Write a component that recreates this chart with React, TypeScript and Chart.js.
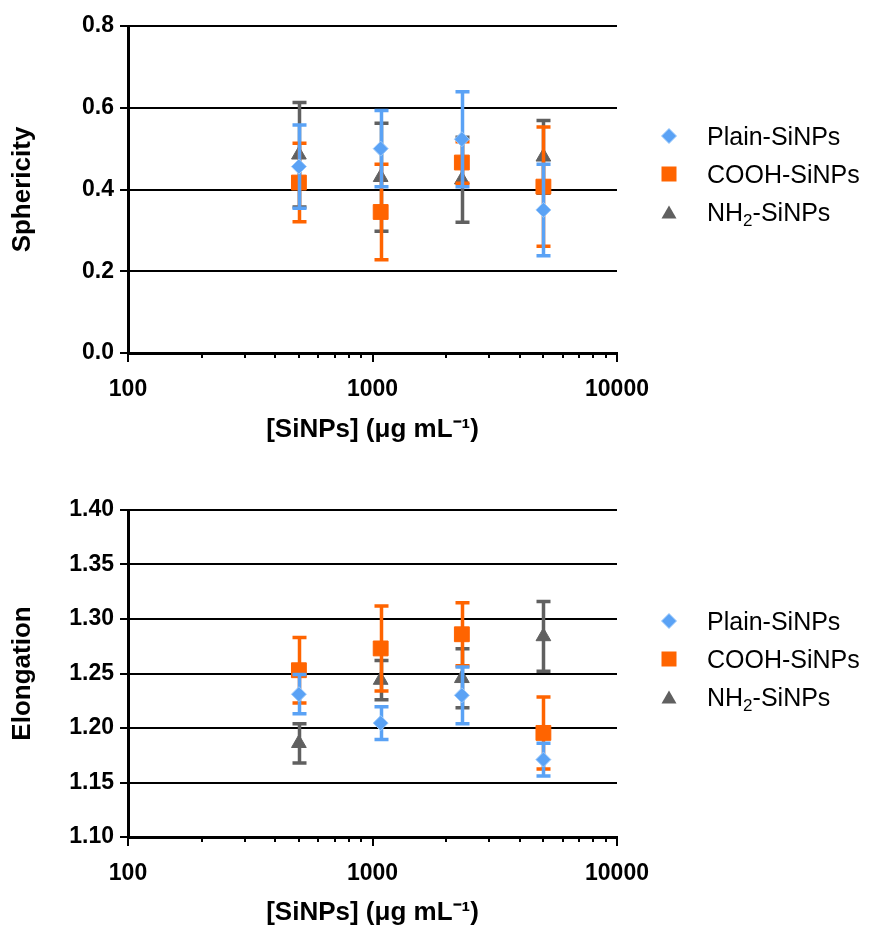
import React, { useEffect, useRef } from "react";
import { Chart, registerables } from "chart.js";

Chart.register(...registerables);

// ---------- data ----------
const DOSES = [500, 1080, 2320, 5000];
const X_TICKS = [100, 200, 300, 400, 500, 600, 700, 800, 900, 1000, 2000, 3000, 4000, 5000, 6000, 7000, 8000, 9000, 10000];
const X_TITLE = "[SiNPs] (\u03bcg mL\u207b\u00b9)";

const SERIES_NAMES = ["Plain-SiNPs", "COOH-SiNPs", "NH2-SiNPs"];

const SPH_TICKS = [0, 0.2, 0.4, 0.6, 0.8];
const SPH_PLAIN = [0.456, 0.5, 0.523, 0.35];
const SPH_PLAIN_ERR = [0.102, 0.093, 0.116, 0.112];
const SPH_COOH = [0.417, 0.345, 0.466, 0.407];
const SPH_COOH_ERR = [0.096, 0.117, 0.051, 0.146];
const SPH_NH2 = [0.485, 0.43, 0.424, 0.48];
const SPH_NH2_ERR = [0.128, 0.132, 0.104, 0.089];

const ELO_TICKS = [1.1, 1.15, 1.2, 1.25, 1.3, 1.35, 1.4];
const ELO_PLAIN = [1.231, 1.2045, 1.23, 1.171];
const ELO_PLAIN_ERR = [0.018, 0.015, 0.026, 0.015];
const ELO_COOH = [1.253, 1.273, 1.286, 1.1955];
const ELO_COOH_ERR = [0.03, 0.039, 0.029, 0.033];
const ELO_NH2 = [1.186, 1.244, 1.2456, 1.284];
const ELO_NH2_ERR = [0.018, 0.018, 0.027, 0.032];

// ---------- styles ----------
const BLUE = "#5aa2f5";
const ORANGE = "#ff6400";
const GRAY = "#606060";
const FONT = "'Liberation Sans', Arial, Helvetica, sans-serif";

const isPow10 = (v: number) => Math.abs(Math.log10(v) - Math.round(Math.log10(v))) < 1e-9;

const errorBarPlugin = {
  id: "errorBars",
  beforeDatasetDraw(chart: any, args: any) {
    const ds: any = chart.data.datasets[args.index];
    const errs: number[] | undefined = ds.errors;
    if (!errs) return;
    const yScale = chart.scales.y;
    const ctx = chart.ctx;
    ctx.save();
    ctx.strokeStyle = ds.barColor;
    ctx.lineWidth = 3.5;
    ctx.lineCap = "butt";
    args.meta.data.forEach((pt: any, i: number) => {
      const raw = ds.data[i];
      const yt = yScale.getPixelForValue(raw.y + errs[i]);
      const yb = yScale.getPixelForValue(raw.y - errs[i]);
      const x = Math.round(pt.x) + 0.5;
      ctx.beginPath();
      ctx.moveTo(x, yt);
      ctx.lineTo(x, yb);
      ctx.moveTo(x - 7, yt);
      ctx.lineTo(x + 7, yt);
      ctx.moveTo(x - 7, yb);
      ctx.lineTo(x + 7, yb);
      ctx.stroke();
    });
    ctx.restore();
  },
};

const xTickPlugin = {
  id: "xTickMarks",
  afterDraw(chart: any) {
    const xs = chart.scales.x;
    const ctx = chart.ctx;
    const y0 = chart.chartArea.bottom;
    ctx.save();
    ctx.strokeStyle = "#000";
    ctx.lineWidth = 2;
    xs.ticks.forEach((t: any) => {
      const x = Math.round(xs.getPixelForValue(t.value));
      ctx.beginPath();
      ctx.moveTo(x, y0);
      ctx.lineTo(x, y0 + (isPow10(t.value) ? 9 : 5));
      ctx.stroke();
    });
    ctx.restore();
  },
};

type PanelCfg = {
  top: number;
  padTop: number;
  xAxisHeight: number;
  xTitlePad: number;
  yTitle: string;
  yTicks: number[];
  yMin: number;
  yMax: number;
  decimals: number;
  plain: number[];
  plainErr: number[];
  cooh: number[];
  coohErr: number[];
  nh2: number[];
  nh2Err: number[];
  legendY: number[];
};

const toPoints = (vals: number[]) => DOSES.map((x, i) => ({ x, y: vals[i] }));

function Panel({ cfg }: { cfg: PanelCfg }) {
  const ref = useRef<HTMLCanvasElement | null>(null);
  useEffect(() => {
    if (!ref.current) return;
    const tickFont = { family: FONT, size: 23, weight: "bold" as const };
    const titleFont = { family: FONT, size: 26, weight: "bold" as const, lineHeight: 1 };
    const chart = new Chart(ref.current, {
      type: "scatter",
      data: {
        datasets: [
          {
            label: SERIES_NAMES[0],
            data: toPoints(cfg.plain),
            errors: cfg.plainErr,
            barColor: BLUE,
            pointStyle: "rectRot",
            pointRadius: 7.5,
            backgroundColor: BLUE,
            borderColor: "#9cc9fb",
            borderWidth: 1,
            showLine: false,
          } as any,
          {
            label: SERIES_NAMES[1],
            data: toPoints(cfg.cooh),
            errors: cfg.coohErr,
            barColor: ORANGE,
            pointStyle: "rect",
            pointRadius: 10.5,
            backgroundColor: ORANGE,
            borderColor: ORANGE,
            borderWidth: 1,
            showLine: false,
          } as any,
          {
            label: SERIES_NAMES[2],
            data: toPoints(cfg.nh2),
            errors: cfg.nh2Err,
            barColor: GRAY,
            pointStyle: "triangle",
            pointRadius: 8.5,
            backgroundColor: GRAY,
            borderColor: GRAY,
            borderWidth: 1,
            showLine: false,
          } as any,
        ],
      },
      options: {
        responsive: false,
        maintainAspectRatio: false,
        animation: false,
        devicePixelRatio: 1,
        layout: { padding: { left: 0, right: 252, top: cfg.padTop, bottom: 0 } },
        plugins: { legend: { display: false }, tooltip: { enabled: false } },
        scales: {
          x: {
            type: "logarithmic",
            position: "bottom",
            min: 100,
            max: 10000,
            afterBuildTicks: (s: any) => {
              s.ticks = X_TICKS.map((v) => ({ value: v, major: isPow10(v) }));
            },
            afterFit: (s: any) => {
              s.height = cfg.xAxisHeight;
            },
            ticks: {
              autoSkip: false,
              maxRotation: 0,
              minRotation: 0,
              padding: 15,
              color: "#000",
              font: tickFont,
              callback: (v: any) => (isPow10(Number(v)) ? String(v) : ""),
            },
            grid: { display: false },
            border: { display: true, color: "#000", width: 3 },
            title: {
              display: true,
              text: X_TITLE,
              color: "#000",
              font: titleFont,
              padding: { top: 0, bottom: cfg.xTitlePad },
            },
          },
          y: {
            type: "linear",
            min: cfg.yMin,
            max: cfg.yMax,
            afterBuildTicks: (s: any) => {
              s.ticks = cfg.yTicks.map((v) => ({ value: v }));
            },
            afterFit: (s: any) => {
              s.width = 128;
            },
            ticks: {
              padding: 6,
              color: "#000",
              font: tickFont,
              callback: (v: any) => Number(v).toFixed(cfg.decimals),
            },
            grid: {
              color: "#000",
              lineWidth: 2,
              drawTicks: true,
              tickLength: 8,
              tickWidth: 2,
              tickColor: "#000",
            },
            border: { display: true, color: "#000", width: 3 },
            title: {
              display: true,
              text: cfg.yTitle,
              color: "#000",
              font: titleFont,
              padding: { top: 10, bottom: 0 },
            },
          },
        },
      } as any,
      plugins: [errorBarPlugin, xTickPlugin],
    });
    return () => chart.destroy();
  }, [cfg]);

  const markers = [
    <polygon key="d" points="8,0.5 15.5,8 8,15.5 0.5,8" fill={BLUE} stroke="#9cc9fb" strokeWidth={1} />,
    <rect key="s" x={0.5} y={0.5} width={15} height={15} fill={ORANGE} />,
    <polygon key="t" points="8,1.5 15.5,14.5 0.5,14.5" fill={GRAY} />,
  ];

  return (
    <div style={{ position: "absolute", left: 0, top: cfg.top, width: 869, height: 463 }}>
      <canvas ref={ref} width={869} height={463} style={{ display: "block", width: 869, height: 463 }} />
      {SERIES_NAMES.map((name, i) => (
        <div
          key={name}
          style={{
            position: "absolute",
            left: 661,
            top: cfg.legendY[i] - 15,
            height: 30,
            display: "flex",
            alignItems: "center",
            fontFamily: FONT,
            fontSize: 25,
            color: "#000",
            whiteSpace: "nowrap",
          }}
        >
          <svg width={16} height={16} style={{ display: "block" }}>
            {markers[i]}
          </svg>
          <span style={{ marginLeft: 30, lineHeight: "30px" }}>
            {i === 2 ? (
              <>
                NH<span style={{ fontSize: "0.68em", verticalAlign: "-0.3em", lineHeight: 0 }}>2</span>-SiNPs
              </>
            ) : (
              name
            )}
          </span>
        </div>
      ))}
    </div>
  );
}

const TOP_CFG: PanelCfg = {
  top: 0,
  padTop: 26,
  xAxisHeight: 110,
  xTitlePad: 20,
  yTitle: "Sphericity",
  yTicks: SPH_TICKS,
  yMin: 0,
  yMax: 0.8,
  decimals: 1,
  plain: SPH_PLAIN,
  plainErr: SPH_PLAIN_ERR,
  cooh: SPH_COOH,
  coohErr: SPH_COOH_ERR,
  nh2: SPH_NH2,
  nh2Err: SPH_NH2_ERR,
  legendY: [136, 174, 212],
};

const BOTTOM_CFG: PanelCfg = {
  top: 463,
  padTop: 47,
  xAxisHeight: 89,
  xTitlePad: 0,
  yTitle: "Elongation",
  yTicks: ELO_TICKS,
  yMin: 1.1,
  yMax: 1.4,
  decimals: 2,
  plain: ELO_PLAIN,
  plainErr: ELO_PLAIN_ERR,
  cooh: ELO_COOH,
  coohErr: ELO_COOH_ERR,
  nh2: ELO_NH2,
  nh2Err: ELO_NH2_ERR,
  legendY: [158, 196, 234],
};

export default function App() {
  return (
    <div style={{ position: "absolute", left: 0, top: 0, width: 869, height: 926, overflow: "hidden", background: "#fff" }}>
      <Panel cfg={TOP_CFG} />
      <Panel cfg={BOTTOM_CFG} />
    </div>
  );
}
